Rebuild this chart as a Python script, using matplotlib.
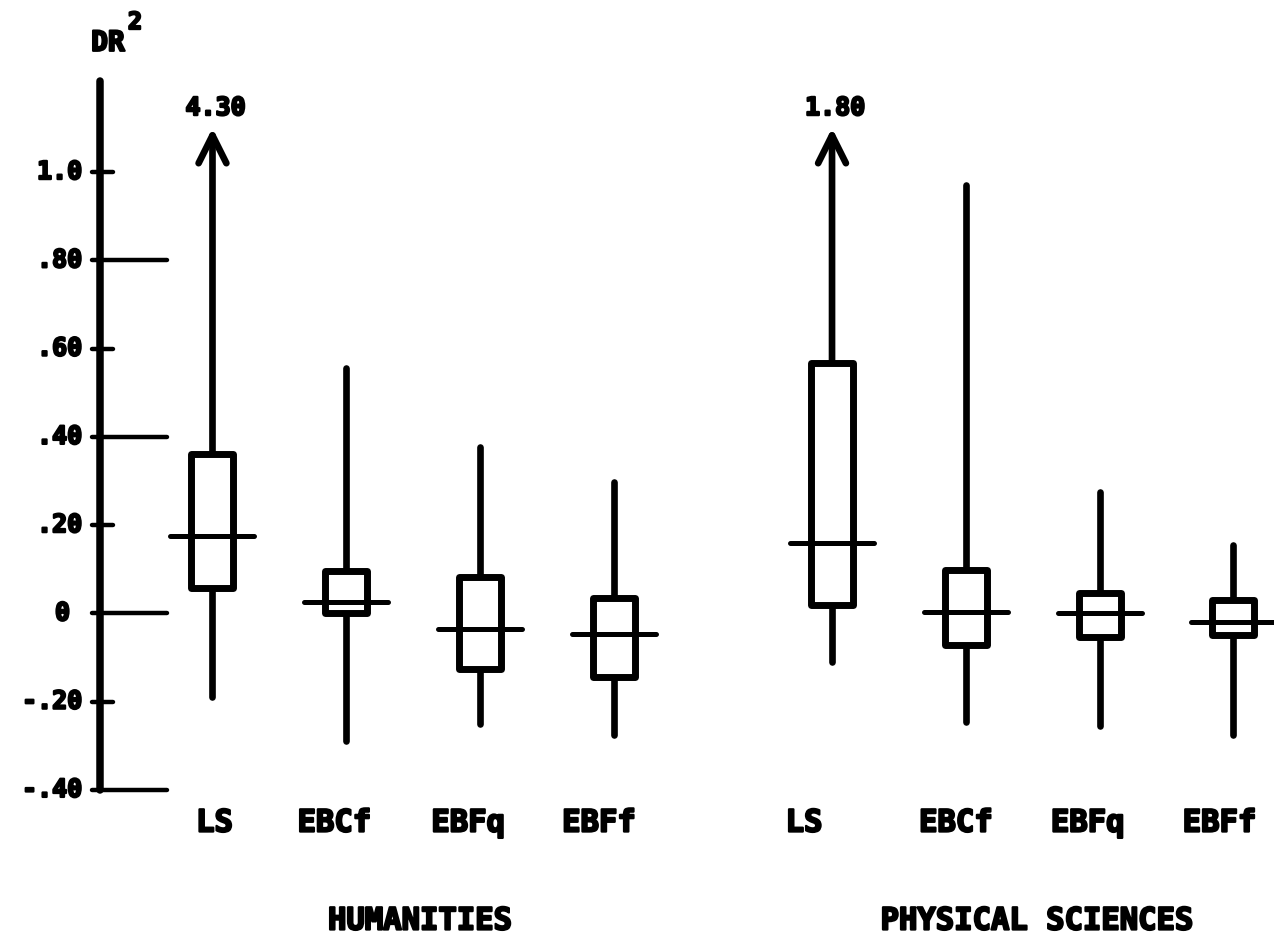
import matplotlib
matplotlib.use("Agg")
import matplotlib.pyplot as plt
import matplotlib.patheffects as pe
from matplotlib.patches import Rectangle

# ── data: DR^2 summaries, humanities first then physical sciences ──
methods = ["LS", "EBCf", "EBFq", "EBFf"]
groups = ["HUMANITIES", "PHYSICAL SCIENCES"]

whisker_lo = [-0.19, -0.29, -0.25, -0.275, -0.11, -0.245, -0.255, -0.275]
q1 = [0.057, 0.0, -0.126, -0.144, 0.019, -0.072, -0.053, -0.049]
median = [0.175, 0.025, -0.035, -0.046, 0.159, 0.003, 0.0, -0.02]
q3 = [0.362, 0.096, 0.083, 0.035, 0.567, 0.098, 0.046, 0.030]
whisker_hi = [4.30, 0.555, 0.378, 0.297, 1.80, 0.97, 0.275, 0.155]

ytick_vals = [-0.40, -0.20, 0.0, 0.20, 0.40, 0.60, 0.80, 1.0]
ytick_text = ["-.40", "-.20", "0", ".20", ".40", ".60", ".80", "1.0"]

# ── layout ──
PX = 133.8                      # pixels per unit on x
positions = [1, 2, 3, 4, 5.63, 6.63, 7.63, 8.63]
label_shift_px = [2, -12, -12, -15, -28, -10, -12, -14]
group_x = [2.55, 7.16]
Y_CAP = 1.10                    # values above this get an arrow
AXIS_X = 0.159
BOX_W = 42 / PX
MED_W = 84 / PX

MONO = ["DejaVu Sans Mono"]
INK = "black"
# heavy typewriter ink
HEAVY = [pe.withStroke(linewidth=1.6, foreground=INK)]


def label(x, y, s, size, ha="center"):
    ax.text(x, y, s, ha=ha, va="center", fontsize=size, fontweight="bold",
            family=MONO, color=INK, path_effects=HEAVY)


fig = plt.figure(figsize=(12.74, 9.4), dpi=100)
ax = fig.add_axes([0, 0, 1, 1])
ax.set_xlim(-0.588, 8.933)
ax.set_ylim(-0.740, 1.390)
ax.axis("off")

# ── y axis ──
ax.plot([AXIS_X, AXIS_X], [-0.40, 1.206], color=INK, lw=5.4, solid_capstyle="round")
for v, t in zip(ytick_vals, ytick_text):
    long_tick = round(v / 0.2) % 2 == 0
    x_end = 0.66 if long_tick else 0.256
    ax.plot([0.099, x_end], [v, v], color=INK, lw=3.2, solid_capstyle="round")
    tx = -0.065 if t == "0" else 0.025
    label(tx, v, t, 18, ha="right")

label(0.219, 1.293, "DR", 20)
label(0.421, 1.340, "2", 17)

# ── boxes ──
for i, x in enumerate(positions):
    # lower whisker
    ax.plot([x, x], [whisker_lo[i], q1[i]], color=INK, lw=4.8,
            solid_capstyle="round", zorder=1)
    # upper whisker, arrow when off scale
    if whisker_hi[i] > Y_CAP:
        ax.annotate("", xy=(x, Y_CAP), xytext=(x, q3[i]),
                    arrowprops=dict(arrowstyle="->,head_length=1.0,head_width=0.5",
                                    lw=4.8, color=INK, shrinkA=0, shrinkB=0,
                                    mutation_scale=20), zorder=1)
        label(x + 3 / PX, Y_CAP + 0.045, f"{whisker_hi[i]:.2f}", 18)
    else:
        ax.plot([x, x], [q3[i], whisker_hi[i]], color=INK, lw=4.8,
                solid_capstyle="round", zorder=1)

    ax.add_patch(Rectangle((x - BOX_W / 2, q1[i]), BOX_W, q3[i] - q1[i],
                           facecolor="white", edgecolor=INK, lw=5.0,
                           joinstyle="round", zorder=2))
    ax.plot([x - MED_W / 2, x + MED_W / 2], [median[i], median[i]], color=INK,
            lw=3.6, solid_capstyle="round", zorder=3)

    label(x + label_shift_px[i] / PX, -0.475, methods[i % 4], 22)

for gx, g in zip(group_x, groups):
    label(gx, -0.697, g, 22)

fig.savefig("out.png", dpi=100, facecolor="white")
